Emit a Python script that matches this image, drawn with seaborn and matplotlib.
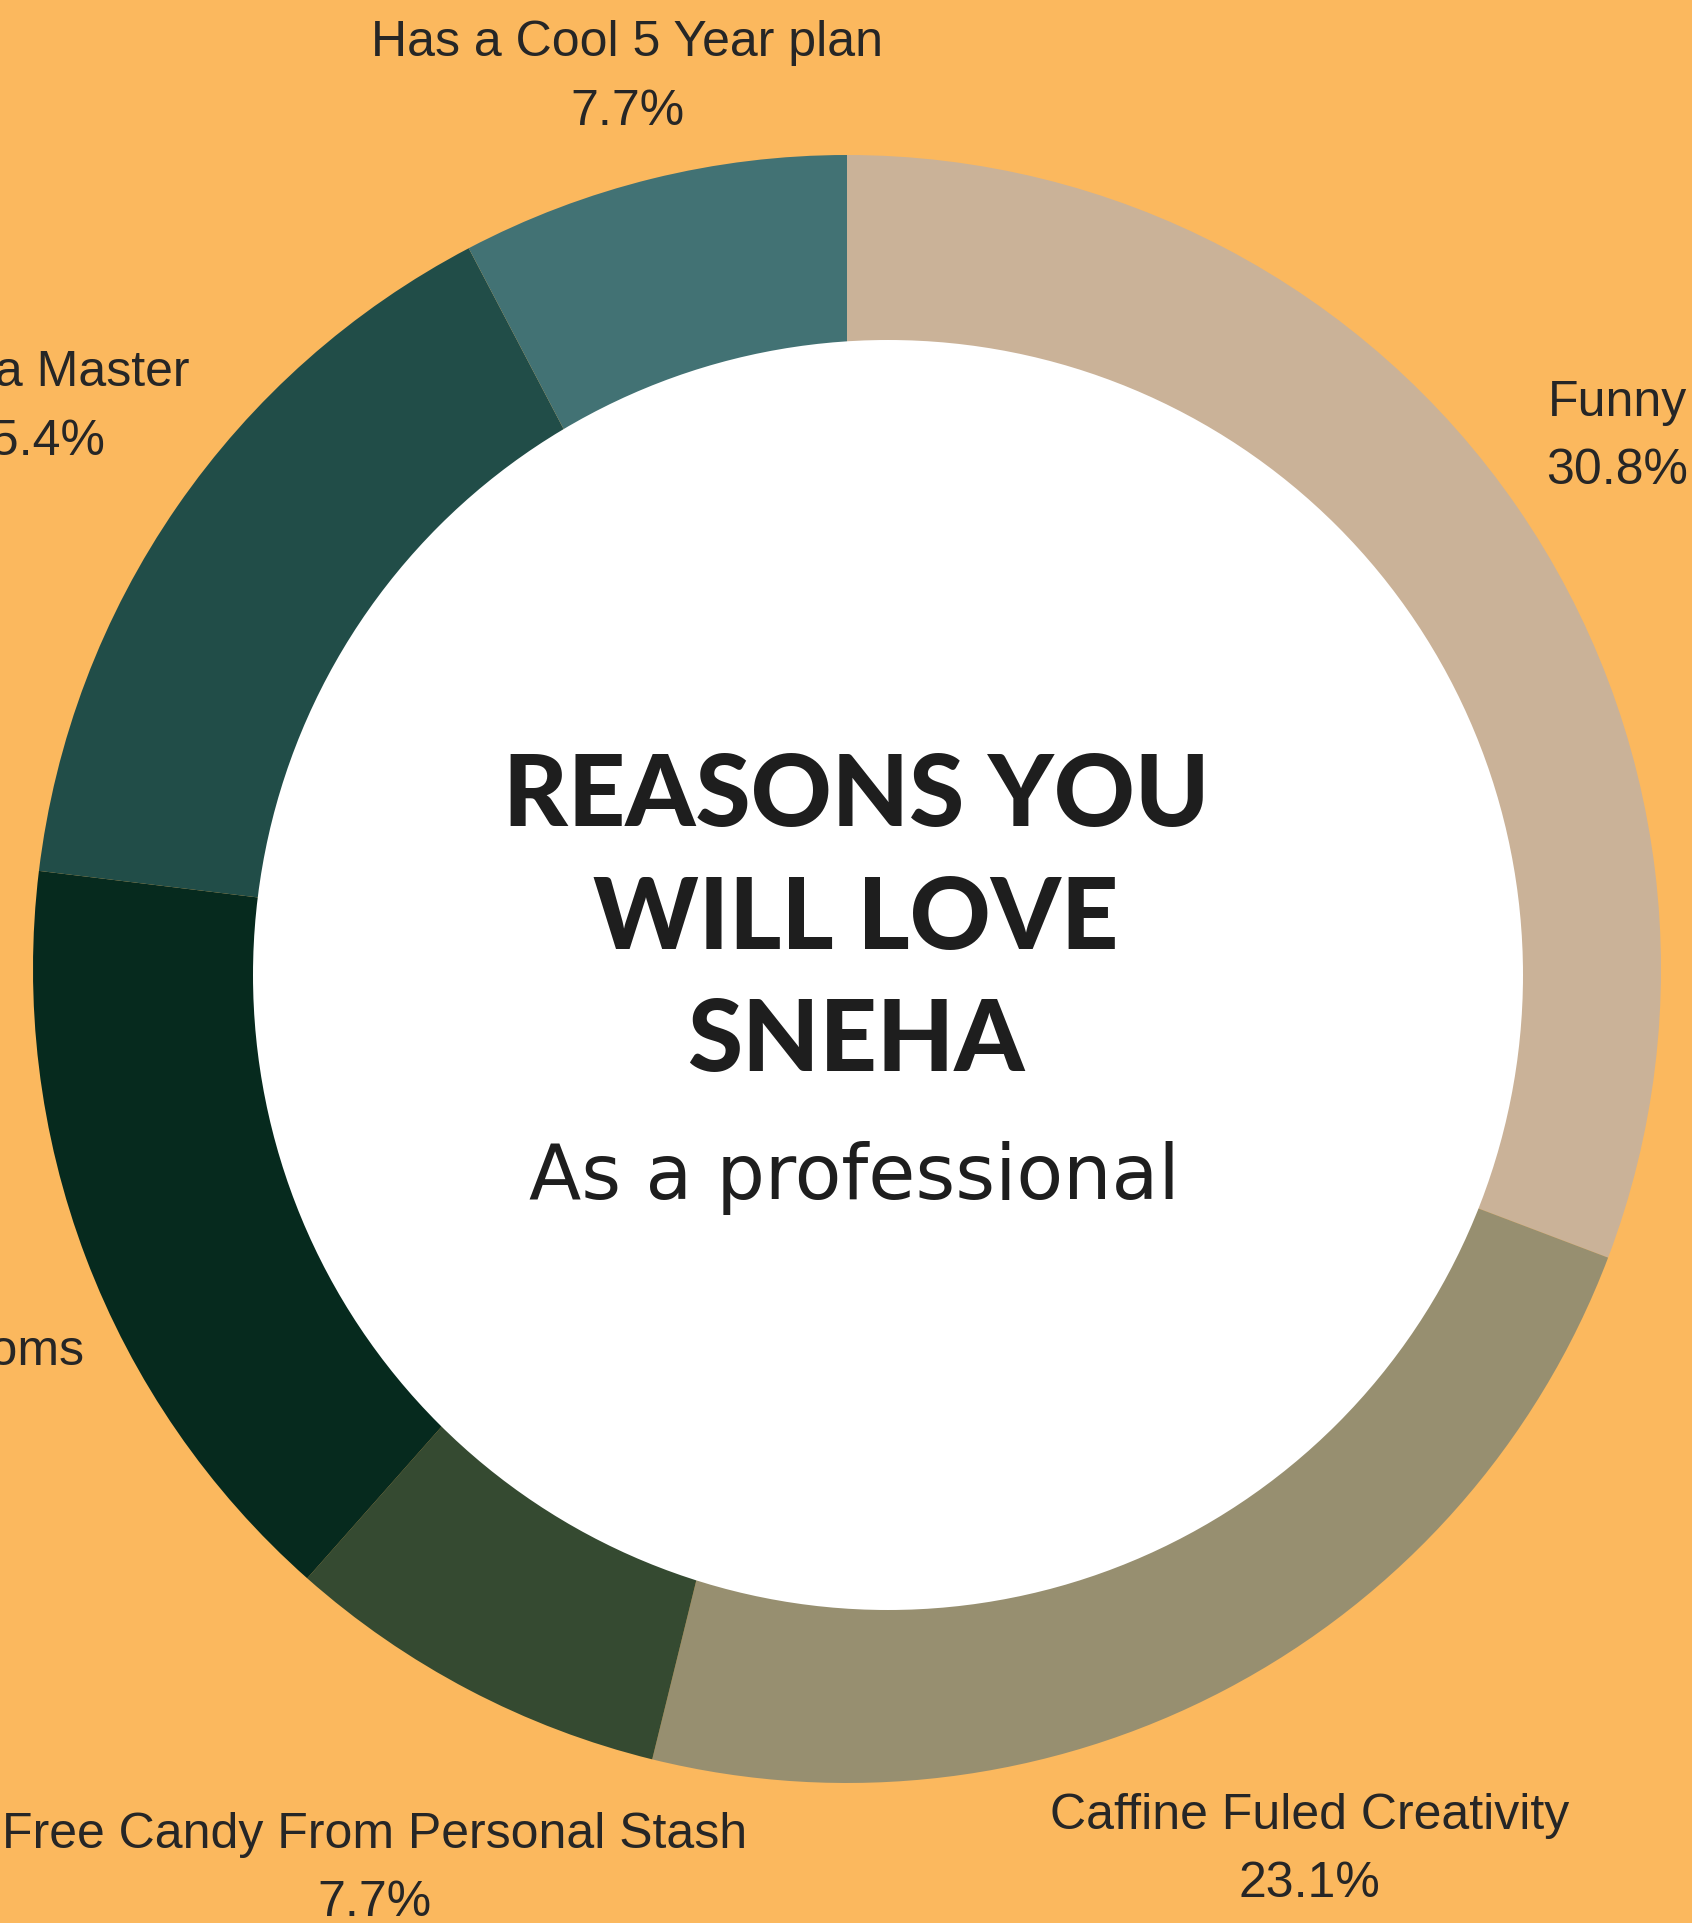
import matplotlib
matplotlib.use("Agg")
import matplotlib.pyplot as plt
import numpy as np
import seaborn as sns

# ---- data ----
categories = ["Funny", "Caffine Fuled Creativity", "Free Candy From Personal Stash",
              "Great at Finding Zoom Rooms", "Canva Master", "Has a Cool 5 Year plan"]
counts = [4, 3, 1, 2, 2, 1]
colors = ["#CAB298", "#978F70", "#354A31", "#062A1E", "#214D48", "#427274"]

title_text = "REASONS YOU\nWILL LOVE\nSNEHA"
subtitle_text = "As a professional"

# ---- style ----
sns.set_theme(style="white")
plt.rcParams["font.family"] = ["Liberation Sans", "DejaVu Sans"]
BG = "#FBB85E"
TXT = "#262626"

W, H = 1692, 1923
fig = plt.figure(figsize=(W / 100, H / 100), dpi=100, facecolor=BG)
ax = fig.add_axes([0, 0, 1, 1])
ax.set_facecolor(BG)

center = (847, H - 969)
R = 814
hole_center = (888, H - 975)
hole_r = 635
label_dist = [1.15, 1.222, 1.249, 1.445, 1.214, 1.128]

wedges, _ = ax.pie(counts, colors=sns.color_palette(colors), startangle=90,
                   counterclock=False, radius=R, center=center,
                   wedgeprops=dict(linewidth=0))
ax.add_patch(plt.Circle(hole_center, hole_r, color="white", lw=0, zorder=3))

total = sum(counts)
for w, cat, c, d in zip(wedges, categories, counts, label_dist):
    ang = np.deg2rad((w.theta1 + w.theta2) / 2)
    x = center[0] + R * d * np.cos(ang)
    y = center[1] + R * d * np.sin(ang)
    ax.text(x, y, f"{cat}\n{100 * c / total:.1f}%", ha="center", va="center",
            fontsize=36, color=TXT, linespacing=1.62, zorder=5)

ax.text(856, H - 920, title_text, ha="center", va="center",
        fontsize=72, fontweight="black", family=["Lato", "DejaVu Sans"],
        color="#1E1E1E", linespacing=1.43, zorder=5)
ax.text(854, H - 1199, subtitle_text, ha="center", va="baseline",
        fontsize=55, family=["DejaVu Sans"], color="#1E1E1E", zorder=5)

ax.set_xlim(0, W)
ax.set_ylim(0, H)
ax.set_aspect("equal")
ax.axis("off")
fig.savefig("out.png", dpi=100, facecolor=BG)
